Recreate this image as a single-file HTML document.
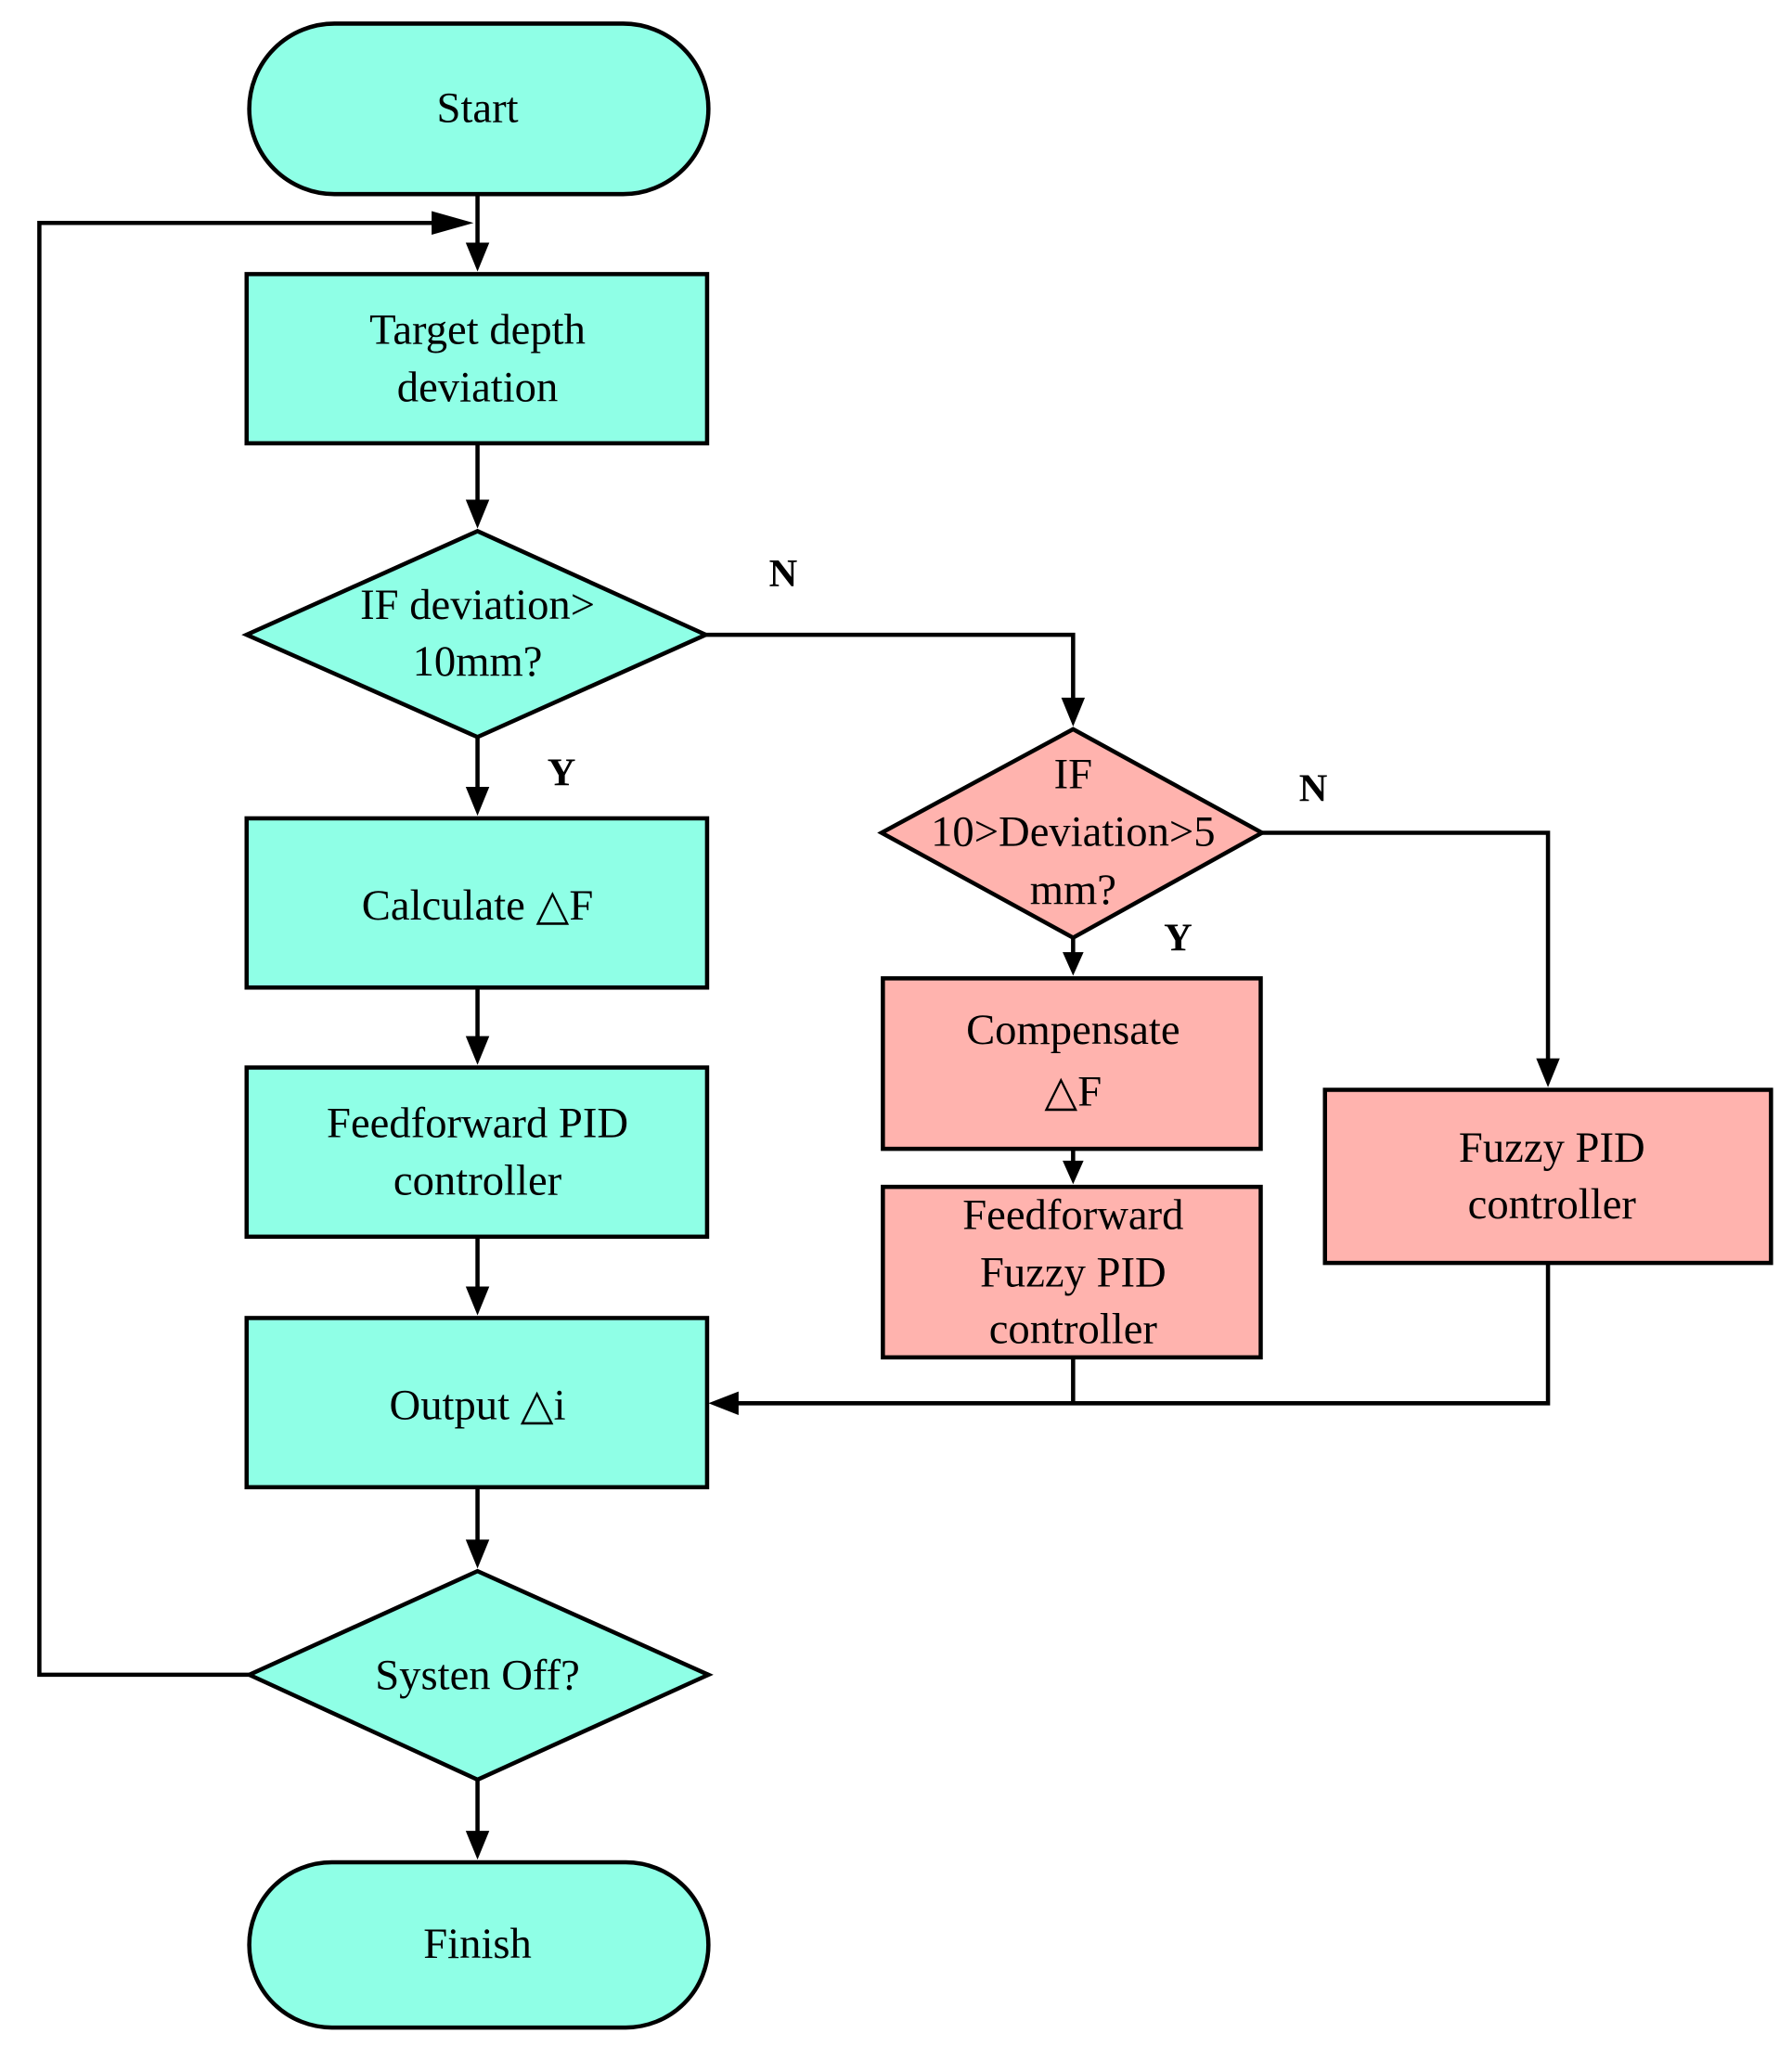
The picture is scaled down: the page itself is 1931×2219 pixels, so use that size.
<!DOCTYPE html>
<html><head><meta charset="utf-8"><style>html,body{margin:0;padding:0;background:#fff}svg{display:block}</style></head><body>
<svg width="1931" height="2219" viewBox="0 0 1366 1570" preserveAspectRatio="none" xmlns="http://www.w3.org/2000/svg">
<g stroke="#000" stroke-width="3.2" fill="#8fffe6">
<rect x="190" y="18" width="350" height="130" rx="65"/>
<rect x="188" y="209" width="351" height="129"/>
<polygon points="188,484 364,405 538,484 364,562"/>
<rect x="188" y="624" width="351" height="129"/>
<rect x="188" y="814" width="351" height="129"/>
<rect x="188" y="1005" width="351" height="129"/>
<polygon points="190,1277 364,1198 540,1277 364,1357"/>
<rect x="190" y="1420" width="350" height="126" rx="63"/>
<g fill="#ffb3ae">
<polygon points="672,635 818,556 962,635 818,715"/>
<rect x="673" y="746" width="288" height="130"/>
<rect x="673" y="905" width="288" height="130"/>
<rect x="1010" y="831" width="340" height="132"/>
</g>
<g fill="none">
<path d="M364,148 V200"/>
<path d="M364,338 V396"/>
<path d="M364,562 V615"/>
<path d="M364,753 V805"/>
<path d="M364,943 V996"/>
<path d="M364,1134 V1189"/>
<path d="M364,1357 V1411"/>
<path d="M538,484 H818 V547"/>
<path d="M962,635 H1180 V822"/>
<path d="M818,715 V737"/>
<path d="M818,876 V896"/>
<path d="M818,1035 V1070"/>
<path d="M1180,963 V1070 H556" />
<path d="M190,1277 H30 V170 H347" />
</g>
</g>
<g fill="#000">
<path d="M540,1070 L563,1061 L563,1079 z"/>
<path d="M361,170 L329,161 L329,179 z"/>
<path d="M355,185 L373,185 L364,207 z"/>
<path d="M355,381 L373,381 L364,403 z"/>
<path d="M355,600 L373,600 L364,622 z"/>
<path d="M355,790 L373,790 L364,812 z"/>
<path d="M355,981 L373,981 L364,1003 z"/>
<path d="M355,1174 L373,1174 L364,1196 z"/>
<path d="M355,1396 L373,1396 L364,1418 z"/>
<path d="M809,532 L827,532 L818,554 z"/>
<path d="M1171,807 L1189,807 L1180,829 z"/>
<path d="M810,726 L826,726 L818,744 z"/>
<path d="M810,885 L826,885 L818,903 z"/>
</g>
<g font-family="'Liberation Serif',serif" font-size="33" text-anchor="middle" fill="#000">
<text x="364" y="93">Start</text>
<text x="364" y="262">Target depth</text><text x="364" y="306">deviation</text>
<text x="364" y="472">IF deviation&gt;</text><text x="364" y="515">10mm?</text>
<text x="364" y="701">Calculate △F</text>
<text x="364" y="867">Feedforward PID</text><text x="364" y="911">controller</text>
<text x="364" y="1082">Output △i</text>
<text x="364" y="1288">Systen Off?</text>
<text x="364" y="1493">Finish</text>
<text x="818" y="601">IF</text><text x="818" y="645">10&gt;Deviation&gt;5</text><text x="818" y="689">mm?</text>
<text x="818" y="796">Compensate</text><text x="818" y="843">△F</text>
<text x="818" y="937">Feedforward</text><text x="818" y="981">Fuzzy PID</text><text x="818" y="1024">controller</text>
<text x="1183" y="886">Fuzzy PID</text><text x="1183" y="929">controller</text>
<g font-weight="bold" font-size="30"><text x="597" y="447">N</text><text x="428" y="599">Y</text><text x="1001" y="611">N</text><text x="898" y="725">Y</text></g>
</g>
</svg>
</body></html>
